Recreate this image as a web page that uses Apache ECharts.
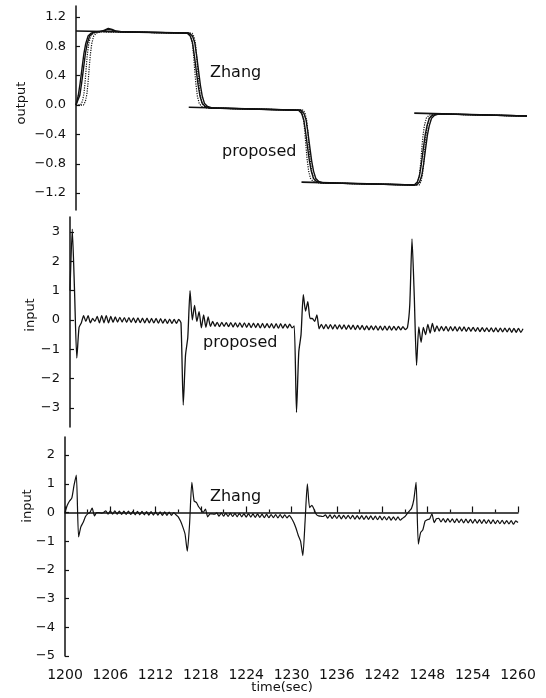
<!DOCTYPE html>
<html>
<head>
<meta charset="utf-8">
<script src="https://cdn.jsdelivr.net/npm/echarts@6/dist/echarts.min.js"></script>
<style>
  html, body { margin: 0; padding: 0; background: #fff; }
  #main { width: 546px; height: 698px; }
</style>
</head>
<body>
<div id="main"></div>
<script>
// x axis ticks (sec)
var timeMin = 1200;
var timeMax = 1260;
var inputStep = 0.3; // sampling step of the input traces

// tick labels
var outputTicks = [-1.2, -0.8, -0.4, 0, 0.4, 0.8, 1.2];
var inputTicksMid = [-3, -2, -1, 0, 1, 2, 3];
var inputTicksLow = [-5, -4, -3, -2, -1, 0, 1, 2];

// setpoint (horizontal segments only)
var setpoint = [
    [1200, 1.01], [1215, 0.98], [1215, '-'],
    [1215, -0.03], [1230, -0.07], [1230, '-'],
    [1230, -1.05], [1245, -1.09], [1245, '-'],
    [1245, -0.11], [1260, -0.15]
];

// output, proposed controller (solid)
var outProposed = [
    [1200.0, 0.0], [1200.3, 0.13], [1200.55, 0.3], [1200.8, 0.5], [1201.05, 0.7], [1201.3, 0.84], [1201.6, 0.94],
    [1202.0, 0.98], [1202.6, 1.0], [1203.2, 1.0], [1203.8, 1.02], [1204.3, 1.045], [1204.8, 1.03], [1205.4, 1.005], [1206.0, 1.0],
    [1214.8, 0.98], [1215.2, 0.94], [1215.5, 0.85], [1215.75, 0.67], [1216.0, 0.47], [1216.25, 0.27], [1216.5, 0.12],
    [1216.8, 0.02], [1217.2, -0.02], [1217.8, -0.04],
    [1229.6, -0.07], [1230.0, -0.11], [1230.3, -0.2], [1230.55, -0.37], [1230.8, -0.57], [1231.05, -0.76], [1231.3, -0.9],
    [1231.6, -1.0], [1232.0, -1.04], [1232.6, -1.06],
    [1245.0, -1.09], [1245.4, -1.05], [1245.7, -0.96], [1245.95, -0.8], [1246.2, -0.6], [1246.45, -0.41], [1246.7, -0.28],
    [1247.0, -0.18], [1247.4, -0.14], [1248.0, -0.12],
    [1260.0, -0.15]
];

// output, Zhang (solid)
var outZhang = [
    [1200.0, 0.0], [1200.3, 0.08], [1200.5, 0.13], [1200.75, 0.3], [1201.0, 0.5], [1201.25, 0.7], [1201.5, 0.84], [1201.8, 0.94],
    [1202.2, 0.98], [1202.8, 1.0], [1203.5, 1.005], [1204.2, 1.03], [1204.7, 1.025], [1205.3, 1.005], [1206.0, 1.0],
    [1215.1, 0.98], [1215.5, 0.94], [1215.8, 0.85], [1216.05, 0.67], [1216.3, 0.47], [1216.55, 0.27], [1216.8, 0.12],
    [1217.1, 0.02], [1217.5, -0.02], [1218.1, -0.04],
    [1229.9, -0.07], [1230.3, -0.11], [1230.6, -0.2], [1230.85, -0.37], [1231.1, -0.57], [1231.35, -0.76], [1231.6, -0.9],
    [1231.9, -1.0], [1232.3, -1.04], [1232.9, -1.06],
    [1245.3, -1.09], [1245.7, -1.05], [1246.0, -0.96], [1246.25, -0.8], [1246.5, -0.6], [1246.75, -0.41], [1247.0, -0.28],
    [1247.3, -0.18], [1247.7, -0.14], [1248.3, -0.12],
    [1260.0, -0.15]
];

// reference model outputs (dotted)
var outModelA = [
    [1200.0, 0.0], [1200.6, 0.0], [1200.85, 0.05], [1201.05, 0.15], [1201.2, 0.3], [1201.35, 0.5], [1201.5, 0.68],
    [1201.7, 0.84], [1201.95, 0.94], [1202.3, 0.98], [1202.9, 1.0],
    [1215.05, 0.98], [1215.3, 0.93], [1215.5, 0.83], [1215.65, 0.67], [1215.8, 0.47], [1215.95, 0.29], [1216.15, 0.12],
    [1216.4, 0.02], [1216.75, -0.02], [1217.35, -0.04],
    [1229.85, -0.07], [1230.1, -0.12], [1230.3, -0.22], [1230.45, -0.37], [1230.6, -0.57], [1230.75, -0.74], [1230.95, -0.9],
    [1231.2, -1.0], [1231.55, -1.04], [1232.15, -1.06],
    [1245.25, -1.09], [1245.5, -1.04], [1245.7, -0.94], [1245.85, -0.8], [1246.0, -0.6], [1246.15, -0.43], [1246.35, -0.28],
    [1246.6, -0.18], [1246.95, -0.14], [1247.55, -0.12],
    [1260.0, -0.15]
];

var outModelB = [
    [1200.0, 0.0], [1201.0, 0.0], [1201.25, 0.05], [1201.45, 0.15], [1201.6, 0.3], [1201.75, 0.5], [1201.9, 0.68],
    [1202.1, 0.84], [1202.35, 0.94], [1202.7, 0.98], [1203.3, 1.0],
    [1215.45, 0.98], [1215.7, 0.93], [1215.9, 0.83], [1216.05, 0.67], [1216.2, 0.47], [1216.35, 0.29], [1216.55, 0.12],
    [1216.8, 0.02], [1217.15, -0.02], [1217.75, -0.04],
    [1230.25, -0.07], [1230.5, -0.12], [1230.7, -0.22], [1230.85, -0.37], [1231.0, -0.57], [1231.15, -0.74], [1231.35, -0.9],
    [1231.6, -1.0], [1231.95, -1.04], [1232.55, -1.06],
    [1245.65, -1.09], [1245.9, -1.04], [1246.1, -0.94], [1246.25, -0.8], [1246.4, -0.6], [1246.55, -0.43], [1246.75, -0.28],
    [1247.0, -0.18], [1247.35, -0.14], [1247.95, -0.12],
    [1260.0, -0.15]
];

// control input, proposed (one value every 0.3 s from 1200)
var inProposed = [
    1.0, 3.1, 1.0, -1.3, -0.25, -0.1, 0.15, -0.05, 0.15, -0.1,
    0.05, -0.05, 0.12, -0.1, 0.15, -0.1, 0.15, -0.1, 0.12, -0.08,
    0.1, -0.07, 0.09, -0.07, 0.08, -0.08, 0.08, -0.08, 0.07, -0.09,
    0.07, -0.09, 0.06, -0.1, 0.06, -0.1, 0.05, -0.1, 0.05, -0.11,
    0.04, -0.11, 0.03, -0.12, 0.03, -0.12, 0.02, -0.12, 0.02, -0.1,
    -2.9, -1.2, -0.6, 1.0, 0.0, 0.5, -0.05, 0.28, -0.27, 0.17,
    -0.25, 0.1, -0.22, -0.05, -0.22, -0.08, -0.23, -0.08, -0.22, -0.09,
    -0.23, -0.09, -0.24, -0.1, -0.24, -0.1, -0.25, -0.1, -0.25, -0.11,
    -0.26, -0.11, -0.26, -0.12, -0.27, -0.12, -0.27, -0.13, -0.27, -0.13,
    -0.28, -0.13, -0.28, -0.13, -0.28, -0.14, -0.28, -0.14, -0.27, -0.2,
    -3.15, -1.1, -0.5, 0.86, 0.3, 0.62, 0.05, 0.05, -0.05, 0.17,
    -0.3, -0.15, -0.3, -0.15, -0.3, -0.16, -0.31, -0.16, -0.31, -0.17,
    -0.31, -0.17, -0.32, -0.18, -0.32, -0.18, -0.33, -0.19, -0.33, -0.19,
    -0.34, -0.2, -0.34, -0.2, -0.34, -0.2, -0.35, -0.21, -0.35, -0.21,
    -0.35, -0.21, -0.35, -0.22, -0.35, -0.22, -0.34, -0.23, -0.33, -0.25,
    0.5, 2.76, 0.8, -1.55, -0.24, -0.76, -0.25, -0.5, -0.15, -0.45,
    -0.12, -0.4, -0.2, -0.38, -0.22, -0.37, -0.22, -0.38, -0.23, -0.37,
    -0.23, -0.38, -0.24, -0.38, -0.24, -0.39, -0.25, -0.39, -0.25, -0.39,
    -0.26, -0.4, -0.26, -0.4, -0.27, -0.4, -0.27, -0.41, -0.27, -0.41,
    -0.28, -0.41, -0.28, -0.41, -0.28, -0.42, -0.29, -0.42, -0.29, -0.42,
    -0.3
];

// control input, Zhang (one value every 0.3 s from 1200)
var inZhang = [
    0.0, 0.25, 0.4, 0.5, 0.95, 1.3, -0.85, -0.5, -0.35, -0.15,
    -0.05, 0.0, 0.15, -0.12, 0.0, 0.0, -0.02, 0.0, 0.06, -0.06,
    0.06, -0.06, 0.06, -0.06, 0.05, -0.07, 0.05, -0.07, 0.05, -0.07,
    0.04, -0.08, 0.04, -0.08, 0.04, -0.08, 0.03, -0.09, 0.03, -0.09,
    0.02, -0.09, 0.02, -0.1, 0.02, -0.1, 0.01, -0.1, 0.0, -0.08,
    -0.15, -0.3, -0.5, -0.75, -1.35, -0.4, 1.05, 0.4, 0.35, 0.2,
    0.1, 0.0, 0.12, -0.15, -0.05, -0.05, -0.06, -0.01, -0.13, -0.01,
    -0.13, -0.02, -0.14, -0.02, -0.14, -0.03, -0.15, -0.03, -0.15, -0.04,
    -0.16, -0.04, -0.16, -0.05, -0.17, -0.05, -0.17, -0.06, -0.18, -0.06,
    -0.18, -0.07, -0.18, -0.07, -0.19, -0.07, -0.19, -0.08, -0.19, -0.1,
    -0.2, -0.35, -0.55, -0.8, -1.0, -1.5, -0.3, 1.0, 0.17, 0.25,
    0.1, -0.07, -0.12, -0.13, -0.14, -0.08, -0.2, -0.08, -0.21, -0.09,
    -0.21, -0.09, -0.22, -0.1, -0.22, -0.1, -0.22, -0.1, -0.23, -0.11,
    -0.23, -0.11, -0.24, -0.12, -0.24, -0.12, -0.25, -0.13, -0.25, -0.13,
    -0.26, -0.14, -0.26, -0.14, -0.27, -0.15, -0.27, -0.15, -0.27, -0.2,
    -0.15, -0.05, 0.05, 0.15, 0.45, 1.05, -1.1, -0.7, -0.6, -0.3,
    -0.25, -0.22, -0.05, -0.35, -0.22, -0.2, -0.33, -0.21, -0.34, -0.21,
    -0.34, -0.22, -0.35, -0.22, -0.35, -0.23, -0.36, -0.23, -0.36, -0.24,
    -0.37, -0.24, -0.37, -0.25, -0.38, -0.25, -0.38, -0.26, -0.39, -0.26,
    -0.39, -0.27, -0.39, -0.27, -0.4, -0.28, -0.4, -0.28, -0.41, -0.29,
    -0.35
];

function withTimes(values) {
    return values.map(function (v, i) {
        return [+(timeMin + i * inputStep).toFixed(2), v];
    });
}

function signLabel(digits) {
    return function (v) {
        var s = Math.abs(v).toFixed(digits);
        return v < 0 ? '\u2212' + s : s;
    };
}

var ink = '#111';
var font = 'DejaVu Sans';

function yAxisFor(idx, min, max, ticks, digits) {
    return {
        gridIndex: idx,
        type: 'value',
        min: min,
        max: max,
        splitLine: { show: false },
        axisLine: { show: true, lineStyle: { color: ink, width: 1.5 } },
        axisTick: { inside: true, length: 4, customValues: ticks, lineStyle: { color: ink, width: 1.2 } },
        axisLabel: {
            customValues: ticks,
            formatter: signLabel(digits),
            color: ink,
            fontSize: 13,
            fontFamily: font,
            margin: 10
        }
    };
}

function hiddenX(idx) {
    return { gridIndex: idx, type: 'value', min: timeMin, max: timeMax, show: false };
}

function line(name, x, y, data, width, type, smooth) {
    return {
        name: name,
        type: 'line',
        xAxisIndex: x,
        yAxisIndex: y,
        data: data,
        showSymbol: false,
        symbol: 'none',
        smooth: smooth || false,
        connectNulls: false,
        lineStyle: { color: ink, width: width, type: type || 'solid' },
        z: type === 'dotted' ? 3 : 4
    };
}

var myChart = echarts.init(document.getElementById('main'), null, { renderer: 'canvas' });

var option = {
    animation: false,
    backgroundColor: '#fff',
    grid: [
        { left: 76, top: 6, width: 451, height: 204 },
        { left: 70, top: 217, width: 453, height: 210 },
        { left: 65, top: 437, width: 453, height: 219 }
    ],
    xAxis: [
        hiddenX(0),
        hiddenX(1),
        {
            gridIndex: 2,
            type: 'value',
            min: timeMin,
            max: timeMax,
            interval: 6,
            splitLine: { show: false },
            axisLine: { lineStyle: { color: ink, width: 1.5 } },
            axisTick: { inside: true, length: 6, lineStyle: { color: ink, width: 1.2 } },
            minorTick: { show: true, splitNumber: 2, length: 3, lineStyle: { color: ink, width: 1.2 } },
            axisLabel: {
                color: ink, fontSize: 14, fontFamily: font, margin: 12,
                formatter: function (v) { return String(v); }
            }
        }
    ],
    yAxis: [
        yAxisFor(0, -1.43, 1.35, outputTicks, 1),
        yAxisFor(1, -3.65, 3.51, inputTicksMid, 0),
        yAxisFor(2, -5, 2.63, inputTicksLow, 0)
    ],
    graphic: [
        { type: 'text', x: 22, y: 103, rotation: Math.PI / 2,
          style: { text: 'output', fill: ink, font: '13px ' + font, align: 'center', verticalAlign: 'middle' } },
        { type: 'text', x: 31, y: 315, rotation: Math.PI / 2,
          style: { text: 'input', fill: ink, font: '13px ' + font, align: 'center', verticalAlign: 'middle' } },
        { type: 'text', x: 28, y: 506, rotation: Math.PI / 2,
          style: { text: 'input', fill: ink, font: '13px ' + font, align: 'center', verticalAlign: 'middle' } },
        { type: 'text', x: 282, y: 688,
          style: { text: 'time(sec)', fill: ink, font: '13px ' + font, align: 'center', verticalAlign: 'middle' } },
        { type: 'text', x: 210, y: 73,
          style: { text: 'Zhang', fill: ink, font: '16px ' + font, align: 'left', verticalAlign: 'middle' } },
        { type: 'text', x: 222, y: 152,
          style: { text: 'proposed', fill: ink, font: '16px ' + font, align: 'left', verticalAlign: 'middle' } },
        { type: 'text', x: 203, y: 343,
          style: { text: 'proposed', fill: ink, font: '16px ' + font, align: 'left', verticalAlign: 'middle' } },
        { type: 'text', x: 210, y: 497,
          style: { text: 'Zhang', fill: ink, font: '16px ' + font, align: 'left', verticalAlign: 'middle' } }
    ],
    series: [
        line('setpoint', 0, 0, setpoint, 1.6),
        line('model A', 0, 0, outModelA, 1.2, 'dotted'),
        line('model B', 0, 0, outModelB, 1.2, 'dotted'),
        line('proposed', 0, 0, outProposed, 1.4),
        line('Zhang', 0, 0, outZhang, 1.4),
        line('input proposed', 1, 1, withTimes(inProposed), 1.3, 'solid', 0.2),
        line('input Zhang', 2, 2, withTimes(inZhang), 1.2, 'solid', 0.2)
    ]
};
myChart.setOption(option);
</script>
</body>
</html>
